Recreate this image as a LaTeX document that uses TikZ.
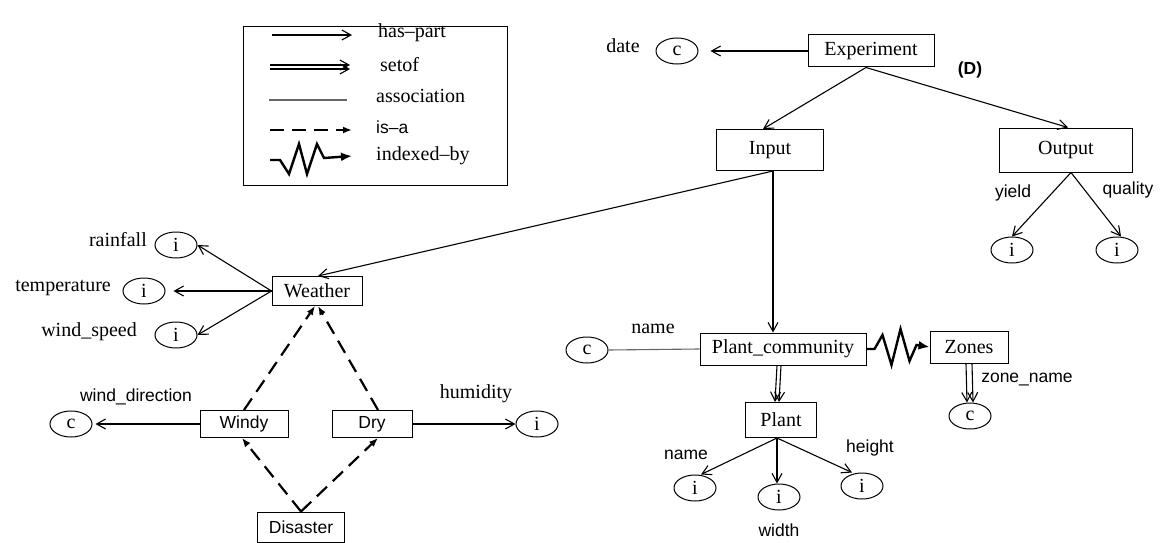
\documentclass[tikz,border=0pt]{standalone}
\usepackage{fontspec}
\setmainfont{Liberation Serif}
\setsansfont{Liberation Sans}
\usetikzlibrary{arrows.meta,shapes.geometric}

\tikzset{
  box/.style={draw, line width=1pt, inner sep=0pt, minimum height=30pt, font=\fontsize{20}{22}\selectfont},
  sbox/.style={box, font=\sffamily\fontsize{17.5}{19}\selectfont},
  attr/.style={draw, ellipse, line width=1pt, inner sep=0pt, minimum width=42pt, minimum height=26pt, font=\fontsize{20}{22}\selectfont},
  lab/.style={inner sep=0pt, font=\fontsize{20}{22}\selectfont},
  slab/.style={inner sep=0pt, font=\sffamily\fontsize{17.5}{19}\selectfont},
  haspart/.style={line width=1.1pt, -{Straight Barb[length=9pt,width=10pt]}},
  assoc/.style={line width=1.1pt, gray!80!black},
  isa/.style={line width=2.2pt, dash pattern=on 14pt off 8pt, -{Latex[length=9pt,width=7pt]}},
  idx/.style={line width=2.4pt, line join=miter, -{Latex[length=11pt,width=9pt]}}
}

\begin{document}
\begin{tikzpicture}[x=1pt,y=-1pt]
\useasboundingbox (0,0) rectangle (1162,543);

% legend
\draw[line width=1pt] (243,27) rectangle (507,185);
\node[lab, anchor=west] (lhp) at (378,33) {has{\textendash}part};
\node[lab, anchor=west] (lset) at (380,65) {setof};
\node[lab, anchor=west] (lass) at (376,96) {association};
\node[slab, anchor=west] (lisa) at (376,127) {is{\textendash}a};
\node[lab, anchor=west] (lidx) at (376,156) {indexed{\textendash}by};
\draw[haspart] ([shift={(-106,2)}]lhp.west) -- ([shift={(-26,2)}]lhp.west);
\draw[haspart] ([shift={(-110,0)}]lset.west) -- ([shift={(-30,0)}]lset.west);
\draw[haspart] ([shift={(-110,4)}]lset.west) -- ([shift={(-30,4)}]lset.west);
\draw[assoc] ([shift={(-107,4)}]lass.west) -- ([shift={(-29,4)}]lass.west);
\draw[isa] ([shift={(-106,3)}]lisa.west) -- ([shift={(-24,3)}]lisa.west);
\draw[idx] ([shift={(-106,4)}]lidx.west) -- ++(10,0) -- ++(9,14) -- ++(10,-30) -- ++(8,30) -- ++(10,-30) -- ++(7,14) -- ([shift={(-24,0)}]lidx.west);

% top part
\node[box, minimum width=126pt, minimum height=32pt] (exp) at (871,51) {Experiment};
\node[attr] (date) at (677,51) {c};
\node[lab] (datel) at (623,46) {date};
\node[font=\sffamily\bfseries\fontsize{17.5}{19}\selectfont] (dlab) at (970,70) {(D)};
\node[box, minimum width=107pt, minimum height=41pt] (input) at (770,150) {Input};
\node[box, minimum width=133pt, minimum height=44pt] (output) at (1066,150) {Output};
\draw[haspart] (exp.west) -- ([xshift=12pt]date.east);
\draw[haspart] ([xshift=-5pt]exp.south) -- ([xshift=-7pt]input.north);
\draw[haspart] ([xshift=-5pt]exp.south) -- ([xshift=2pt]output.north);

\node[attr] (yield) at (1012,250) {i};
\node[attr] (quality) at (1117,250) {i};
\node[slab] (yieldl) at (1013,193) {yield};
\node[slab] (qualityl) at (1128,190) {quality};
\draw[haspart] ([xshift=5pt]output.south) -- (yield.north);
\draw[haspart] ([xshift=5pt]output.south) -- ([xshift=4pt]quality.north);

% weather
\node[box, minimum width=90pt, minimum height=29pt] (weather) at (317,291) {Weather};
\draw[haspart] ([xshift=3pt]input.south) -- ([xshift=1pt]weather.north);
\node[attr] (rain) at (176,245) {i};
\node[attr] (temp) at (144,291) {i};
\node[attr] (wspeed) at (176,335) {i};
\node[lab, anchor=east] (rainl) at (147,240) {rainfall};
\node[lab, anchor=east] (templ) at (111,288) {temperature};
\node[lab, anchor=east] (wspeedl) at (137,332) {wind\_speed};
\draw[haspart] (weather.west) -- (rain.east);
\draw[haspart] (weather.west) -- ([xshift=8pt]temp.east);
\draw[haspart] (weather.west) -- (wspeed.east);

\node[sbox, minimum width=88pt, minimum height=27pt] (windy) at (244,424) {Windy};
\node[sbox, minimum width=80pt, minimum height=27pt] (dry) at (372,424) {Dry};
\node[sbox, minimum width=87pt, minimum height=30pt] (disaster) at (301,527) {Disaster};
\draw[isa] (windy.north) -- ([xshift=-2pt]weather.south);
\draw[isa] ([xshift=6pt]dry.north) -- ([xshift=1pt]weather.south);
\draw[isa] (disaster.north) -- ([xshift=-2pt]windy.south);
\draw[isa] (disaster.north) -- ([xshift=6pt]dry.south);

\node[attr] (wdir) at (71,424) {c};
\node[slab] (wdirl) at (136,397) {wind\_direction};
\node[attr] (humid) at (537,424) {i};
\node[lab] (humidl) at (476,394) {humidity};
\draw[haspart] (windy.west) -- ([xshift=3pt]wdir.east);
\draw[haspart] (dry.east) -- (humid.west);

% plants
\node[box, minimum width=166pt, minimum height=32pt] (pc) at (783,349) {Plant\_community};
\draw[haspart] ([xshift=3pt]input.south) -- ([xshift=-10pt]pc.north);
\node[attr] (pname) at (587,350) {c};
\node[lab] (pnamel) at (653,329) {name};
\draw[assoc] (pname.east) -- (pc.west);

\node[box, minimum width=78pt, minimum height=32pt] (zones) at (969,347) {Zones};
\draw[idx] (pc.east) -- ++(8,0) -- ++(8,-14) -- ++(9,30) -- ++(9,-36) -- ++(9,32) -- ++(7,-16) -- (zones.west);
\node[attr] (zname) at (970,416) {c};
\node[slab] (znamel) at (1027,380) {zone\_name};
\draw[haspart] ([xshift=-3pt]zones.south) -- ([xshift=-3pt]zname.north);
\draw[haspart] ([xshift=3pt]zones.south) -- ([xshift=3pt]zname.north);

\node[box, minimum width=71pt, minimum height=35pt] (plant) at (781,420) {Plant};
\draw[haspart] ([xshift=-6pt]pc.south) -- ([xshift=-6pt]plant.north);
\draw[haspart] ([xshift=-2pt]pc.south) -- ([xshift=-2pt]plant.north);
\node[attr] (pln) at (695,488) {i};
\node[attr] (plw) at (779,497) {i};
\node[attr] (plh) at (862,486) {i};
\node[slab] (plnl) at (686,455) {name};
\node[slab] (plhl) at (870,448) {height};
\node[slab] (plwl) at (779,530) {width};
\draw[haspart] ([xshift=-4pt]plant.south) -- ([xshift=6pt]pln.north);
\draw[haspart] ([xshift=-4pt]plant.south) -- ([xshift=-2pt]plw.north);
\draw[haspart] ([xshift=-4pt]plant.south) -- ([xshift=-10pt]plh.north);

\end{tikzpicture}
\end{document}
